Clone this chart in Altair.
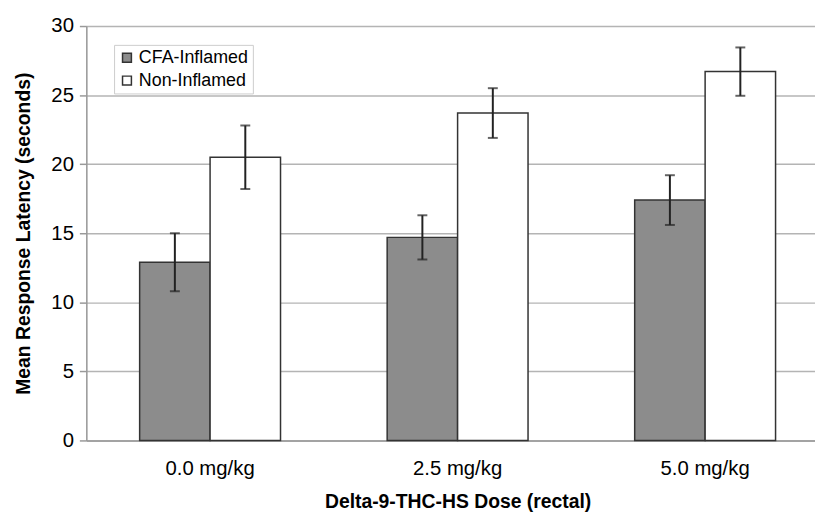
import altair as alt
import pandas as pd

doses = ["0.0 mg/kg", "2.5 mg/kg", "5.0 mg/kg"]
groups = ["CFA-Inflamed", "Non-Inflamed"]
cfa_mean = [12.9, 14.7, 17.4]
cfa_err = [2.1, 1.6, 1.8]
non_mean = [20.5, 23.7, 26.7]
non_err = [2.3, 1.8, 1.75]

rows = []
for i, d in enumerate(doses):
    rows.append({"dose": d, "group": groups[0], "mean": cfa_mean[i],
                 "lo": cfa_mean[i] - cfa_err[i], "hi": cfa_mean[i] + cfa_err[i]})
    rows.append({"dose": d, "group": groups[1], "mean": non_mean[i],
                 "lo": non_mean[i] - non_err[i], "hi": non_mean[i] + non_err[i]})
df = pd.DataFrame(rows)

FONT = "Liberation Sans"

x = alt.X("dose:N", sort=doses,
          scale=alt.Scale(range=[0, 749], paddingInner=0, paddingOuter=0),
          axis=alt.Axis(title="Delta-9-THC-HS Dose (rectal)", labelAngle=0,
                        labelFontSize=20.5, labelColor="#000", labelFont=FONT,
                        ticks=False, tickSize=0, labelPadding=18,
                        titleFontSize=19.5, titleFontWeight="bold", titleFont=FONT,
                        titleColor="#000", titlePadding=14,
                        domainColor="#999", domainWidth=1.5, grid=False))
xo = alt.XOffset("group:N", sort=groups,
                 scale=alt.Scale(paddingInner=0, paddingOuter=0.757))

bars = alt.Chart(df).mark_bar(stroke="#333", strokeWidth=1.5).encode(
    x=x,
    xOffset=xo,
    y=alt.Y("mean:Q", scale=alt.Scale(domain=[0, 30]),
            axis=alt.Axis(title="Mean Response Latency (seconds)", values=[0, 5, 10, 15, 20, 25, 30],
                          labelFontSize=20.5, labelColor="#000", labelFont=FONT,
                          tickSize=7, tickColor="#999", tickWidth=1.5, labelPadding=6,
                          titleFontSize=19.5, titleFontWeight="bold", titleFont=FONT,
                          titleColor="#000", titlePadding=18,
                          domainColor="#999", domainWidth=1.5,
                          gridColor="#b4b4b4", gridWidth=1.5)),
    fill=alt.Fill("group:N", sort=groups,
                  scale=alt.Scale(domain=groups, range=["#8c8c8c", "#ffffff"]),
                  legend=alt.Legend(title=None, orient="none", legendX=28, legendY=19,
                                    symbolType="square", symbolSize=80,
                                    symbolStrokeColor="#333", symbolStrokeWidth=1.5,
                                    labelFontSize=18, labelFont=FONT, labelColor="#000",
                                    rowPadding=5, padding=4, labelOffset=3,
                                    strokeColor="#ccc", fillColor="#ffffff")),
)

rules = alt.Chart(df).mark_rule(color="#222", strokeWidth=2).encode(
    x=x, xOffset=xo, y="lo:Q", y2="hi:Q")

caps_hi = alt.Chart(df).mark_tick(color="#222", size=10, thickness=2, orient="horizontal").encode(
    x=x, xOffset=xo, y="hi:Q")
caps_lo = alt.Chart(df).mark_tick(color="#222", size=10, thickness=2, orient="horizontal").encode(
    x=x, xOffset=xo, y="lo:Q")

chart = alt.layer(bars, rules, caps_hi, caps_lo).properties(
    width=735, height=418,
    autosize=alt.AutoSizeParams(type="none"),
    padding={"left": 79, "top": 16, "right": 0, "bottom": 70},
).configure_view(stroke=None).configure(background="#ffffff")

chart.save("out.html", embed_options={"renderer": "svg", "actions": False})
